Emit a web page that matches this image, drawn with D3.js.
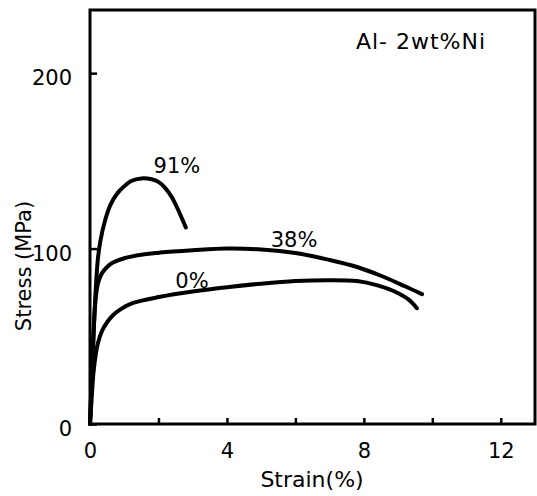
<!DOCTYPE html>
<html>
<head>
<meta charset="utf-8">
<script src="https://cdn.jsdelivr.net/npm/d3@7/dist/d3.min.js"></script>
<style>
  html, body { margin: 0; padding: 0; background: #fff; }
  svg { display: block; }
  text { font-family: "DejaVu Sans", sans-serif; fill: #000; }
</style>
</head>
<body>
<svg id="chart" width="537" height="496"></svg>
<script>
// ---- data ----
const strain0  = [0, 0.05, 0.1, 0.17, 0.23, 0.35, 0.5, 0.67, 0.9, 1.26, 2.05, 3.0, 4.0, 5.0, 6.0, 7.0, 7.8, 8.4, 8.9, 9.3, 9.55];
const stress0  = [0, 15, 29, 40, 46, 53, 58, 62, 65.5, 69, 72.5, 75.5, 78, 80, 81.5, 82, 81.5, 79, 75.5, 71, 66];
const strain38 = [0, 0.08, 0.15, 0.23, 0.35, 0.5, 0.67, 1.0, 1.5, 2.05, 3.0, 4.0, 5.0, 6.0, 7.0, 7.8, 8.5, 9.2, 9.7];
const stress38 = [0, 40, 68, 80, 86, 89.5, 92, 94.5, 96.5, 97.7, 99, 100, 99.5, 97.5, 93.5, 89.5, 84.5, 78.5, 74];
const strain91 = [0, 0.08, 0.16, 0.23, 0.3, 0.44, 0.6, 0.8, 1.0, 1.2, 1.5, 1.8, 2.0, 2.2, 2.4, 2.6, 2.8];
const stress91 = [0, 40, 74, 94, 104, 116, 125, 131.5, 135.5, 138.5, 140, 139.5, 138, 134.5, 129, 121, 112];
const seriesNames = ["0%", "38%", "91%"];
const xTicks = [0, 2, 4, 6, 8, 10, 12];
const xTickLabels = [0, 4, 8, 12];
const yTicks = [0, 100, 200];
const xDomain = [0, 13];
const yDomain = [0, 236];

// ---- layout ----
const svg = d3.select("#chart");
const mLeft = 90, mRight = 535, mTop = 10, mBottom = 424;
const x = d3.scaleLinear().domain(xDomain).range([mLeft, mRight]);
const y = d3.scaleLinear().domain(yDomain).range([mBottom, mTop]);
const FS = 21;

// axes
const xAxis = d3.axisBottom(x).tickValues(xTicks).tickSizeInner(-6).tickSizeOuter(0)
  .tickPadding(19).tickFormat(d => xTickLabels.includes(d) ? d : "");
const gx = svg.append("g").attr("transform", `translate(0,${mBottom})`).call(xAxis);
gx.select(".domain").remove();
gx.selectAll(".tick line").attr("stroke", "#000").attr("stroke-width", 2.5);
gx.selectAll("text").attr("font-size", FS).attr("font-family", "DejaVu Sans, sans-serif").attr("fill", "#000");

const yAxis = d3.axisLeft(y).tickValues(yTicks).tickSizeInner(-7).tickSizeOuter(0).tickPadding(18);
const gy = svg.append("g").attr("transform", `translate(${mLeft},0)`).call(yAxis);
gy.select(".domain").remove();
gy.selectAll(".tick line").attr("stroke", "#000").attr("stroke-width", 2.5);
gy.selectAll("text").attr("font-size", FS).attr("dy", "0.55em").attr("font-family", "DejaVu Sans, sans-serif").attr("fill", "#000");

// frame
svg.append("rect")
  .attr("x", x(xDomain[0])).attr("y", y(yDomain[1]))
  .attr("width", x(xDomain[1]) - x(xDomain[0]))
  .attr("height", y(yDomain[0]) - y(yDomain[1]))
  .attr("fill", "none").attr("stroke", "#000").attr("stroke-width", 3);

// curves
const line = d3.line().x(d => x(d[0])).y(d => y(d[1])).curve(d3.curveCatmullRom.alpha(0.5));
const series = [
  d3.zip(strain0, stress0),
  d3.zip(strain38, stress38),
  d3.zip(strain91, stress91)
];
series.forEach(s => {
  svg.append("path").datum(s).attr("d", line)
    .attr("fill", "none").attr("stroke", "#000").attr("stroke-width", 4)
    .attr("stroke-linecap", "round").attr("stroke-linejoin", "round");
});

// curve labels (positioned in data units)
const labelPos = [[2.98, 77.5], [5.96, 101], [2.54, 143]];
seriesNames.forEach((n, i) => {
  svg.append("text").attr("x", x(labelPos[i][0])).attr("y", y(labelPos[i][1]))
    .attr("text-anchor", "middle").attr("font-size", FS).text(n);
});

// title
svg.append("text").attr("x", x(9.67)).attr("y", y(214)).attr("text-anchor", "middle")
  .attr("font-size", 22).attr("letter-spacing", 1).text("Al- 2wt%Ni");

// axis titles
svg.append("text").attr("x", 312).attr("y", 487)
  .attr("text-anchor", "middle").attr("font-size", 22).text("Strain(%)");
svg.append("text").attr("transform", "translate(31,266) rotate(-90)")
  .attr("text-anchor", "middle").attr("font-size", FS).text("Stress (MPa)");
</script>
</body>
</html>
